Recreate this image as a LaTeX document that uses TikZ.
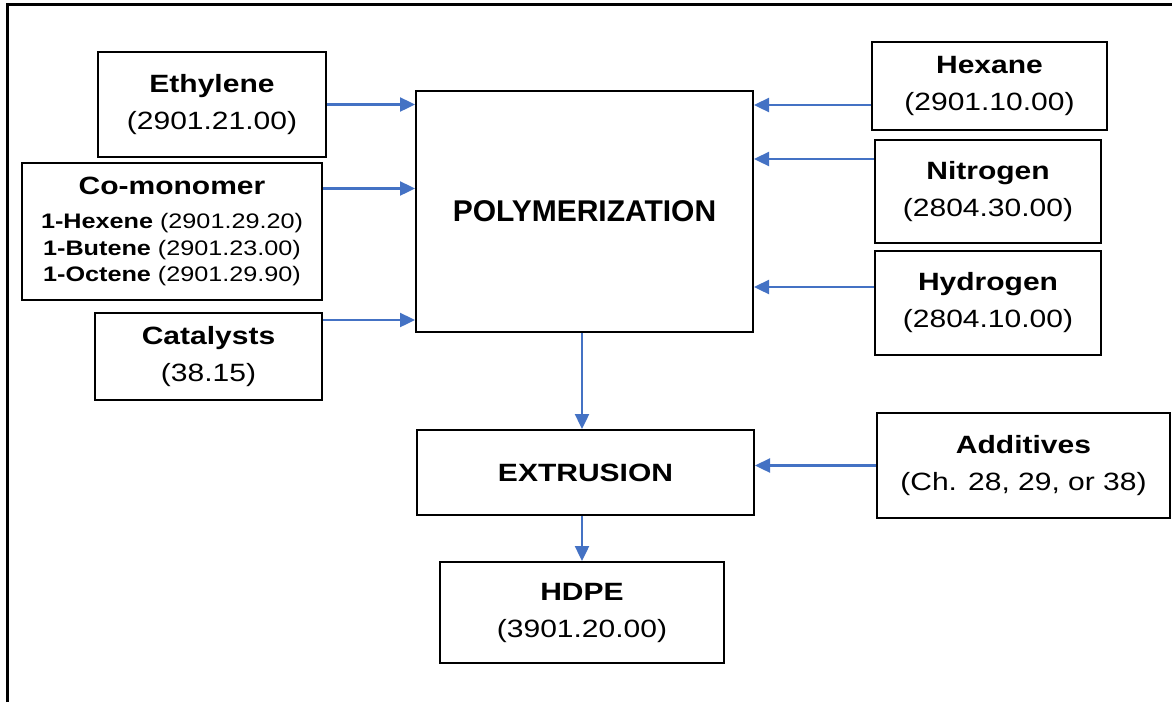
\documentclass[tikz,border=0pt]{standalone}
\usepackage{fontspec}
\setmainfont{Liberation Sans}[FakeStretch=1.2]
\newfontfamily\widefont{Liberation Sans}
\usetikzlibrary{arrows.meta}
\definecolor{flowblue}{HTML}{4472C4}

\begin{document}
\begin{tikzpicture}[x=1pt, y=-1pt,
  box/.style={draw=black, line width=2pt, align=center, inner sep=0pt, font=\fontsize{25}{37}\selectfont},
  flow/.style={draw=flowblue, line width=2.4pt, -{Triangle[length=15pt,width=14pt]}}]
\useasboundingbox (0,0) rectangle (1172,702);
\draw[line width=3pt] (7,702) -- (7,4) -- (1172,4);
\node[box, minimum width=228pt, minimum height=105pt](eth) at (212,104.5){\textbf{Ethylene}\\(2901.21.00)};
\node[box, minimum width=300pt, minimum height=137pt, font=\fontsize{21}{26.5}\selectfont](como) at (172,231.5){{\fontsize{25}{30}\selectfont\bfseries Co-monomer}\\[7.5pt]\textbf{1-Hexene} (2901.29.20)\\\textbf{1-Butene} (2901.23.00)\\\textbf{1-Octene} (2901.29.90)};
\node[box, minimum width=227pt, minimum height=87pt](cat) at (208.5,356.5){\textbf{Catalysts}\\(38.15)};
\node[box, minimum width=337pt, minimum height=241pt, font=\widefont\fontsize{30}{36}\selectfont](poly) at (584.5,211.5){\textbf{POLYMERIZATION}};
\node[box, minimum width=235pt, minimum height=88pt](hex) at (989.5,86){\textbf{Hexane}\\(2901.10.00)};
\node[box, minimum width=226pt, minimum height=103pt](nit) at (988,191.5){\textbf{Nitrogen}\\(2804.30.00)};
\node[box, minimum width=226pt, minimum height=104pt](hyd) at (988,303){\textbf{Hydrogen}\\(2804.10.00)};
\node[box, minimum width=337pt, minimum height=85pt](ext) at (585.5,472.5){\textbf{EXTRUSION}};
\node[box, minimum width=293pt, minimum height=105pt](add) at (1023.5,465.5){\textbf{Additives}\\(Ch. 28, 29, or 38)};
\node[box, minimum width=284pt, minimum height=101pt](hdpe) at (582,612.5){\textbf{HDPE}\\(3901.20.00)};
% feeds into polymerization
\coordinate (como1) at ([yshift=43pt]como.east);
\coordinate (cat1) at ([yshift=36.5pt]cat.east);
\coordinate (hex1) at ([yshift=-19pt]hex.west);
\coordinate (nit1) at ([yshift=32.5pt]nit.west);
\coordinate (hyd1) at ([yshift=16pt]hyd.west);
\draw[flow] (eth.east) -- (eth.east -| poly.west);
\draw[flow] (como1) -- (como1 -| poly.west);
\draw[flow] (cat1) -- (cat1 -| poly.west);
\draw[flow] (hex1) -- (hex1 -| poly.east);
\draw[flow] (nit1) -- (nit1 -| poly.east);
\draw[flow] (hyd1) -- (hyd1 -| poly.east);
% main line
\draw[flow] (poly.south -| hdpe.north) -- (ext.north -| hdpe.north);
\draw[flow] (add.west) -- (add.west -| ext.east);
\draw[flow] (ext.south -| hdpe.north) -- (hdpe.north);
\end{tikzpicture}
\end{document}
